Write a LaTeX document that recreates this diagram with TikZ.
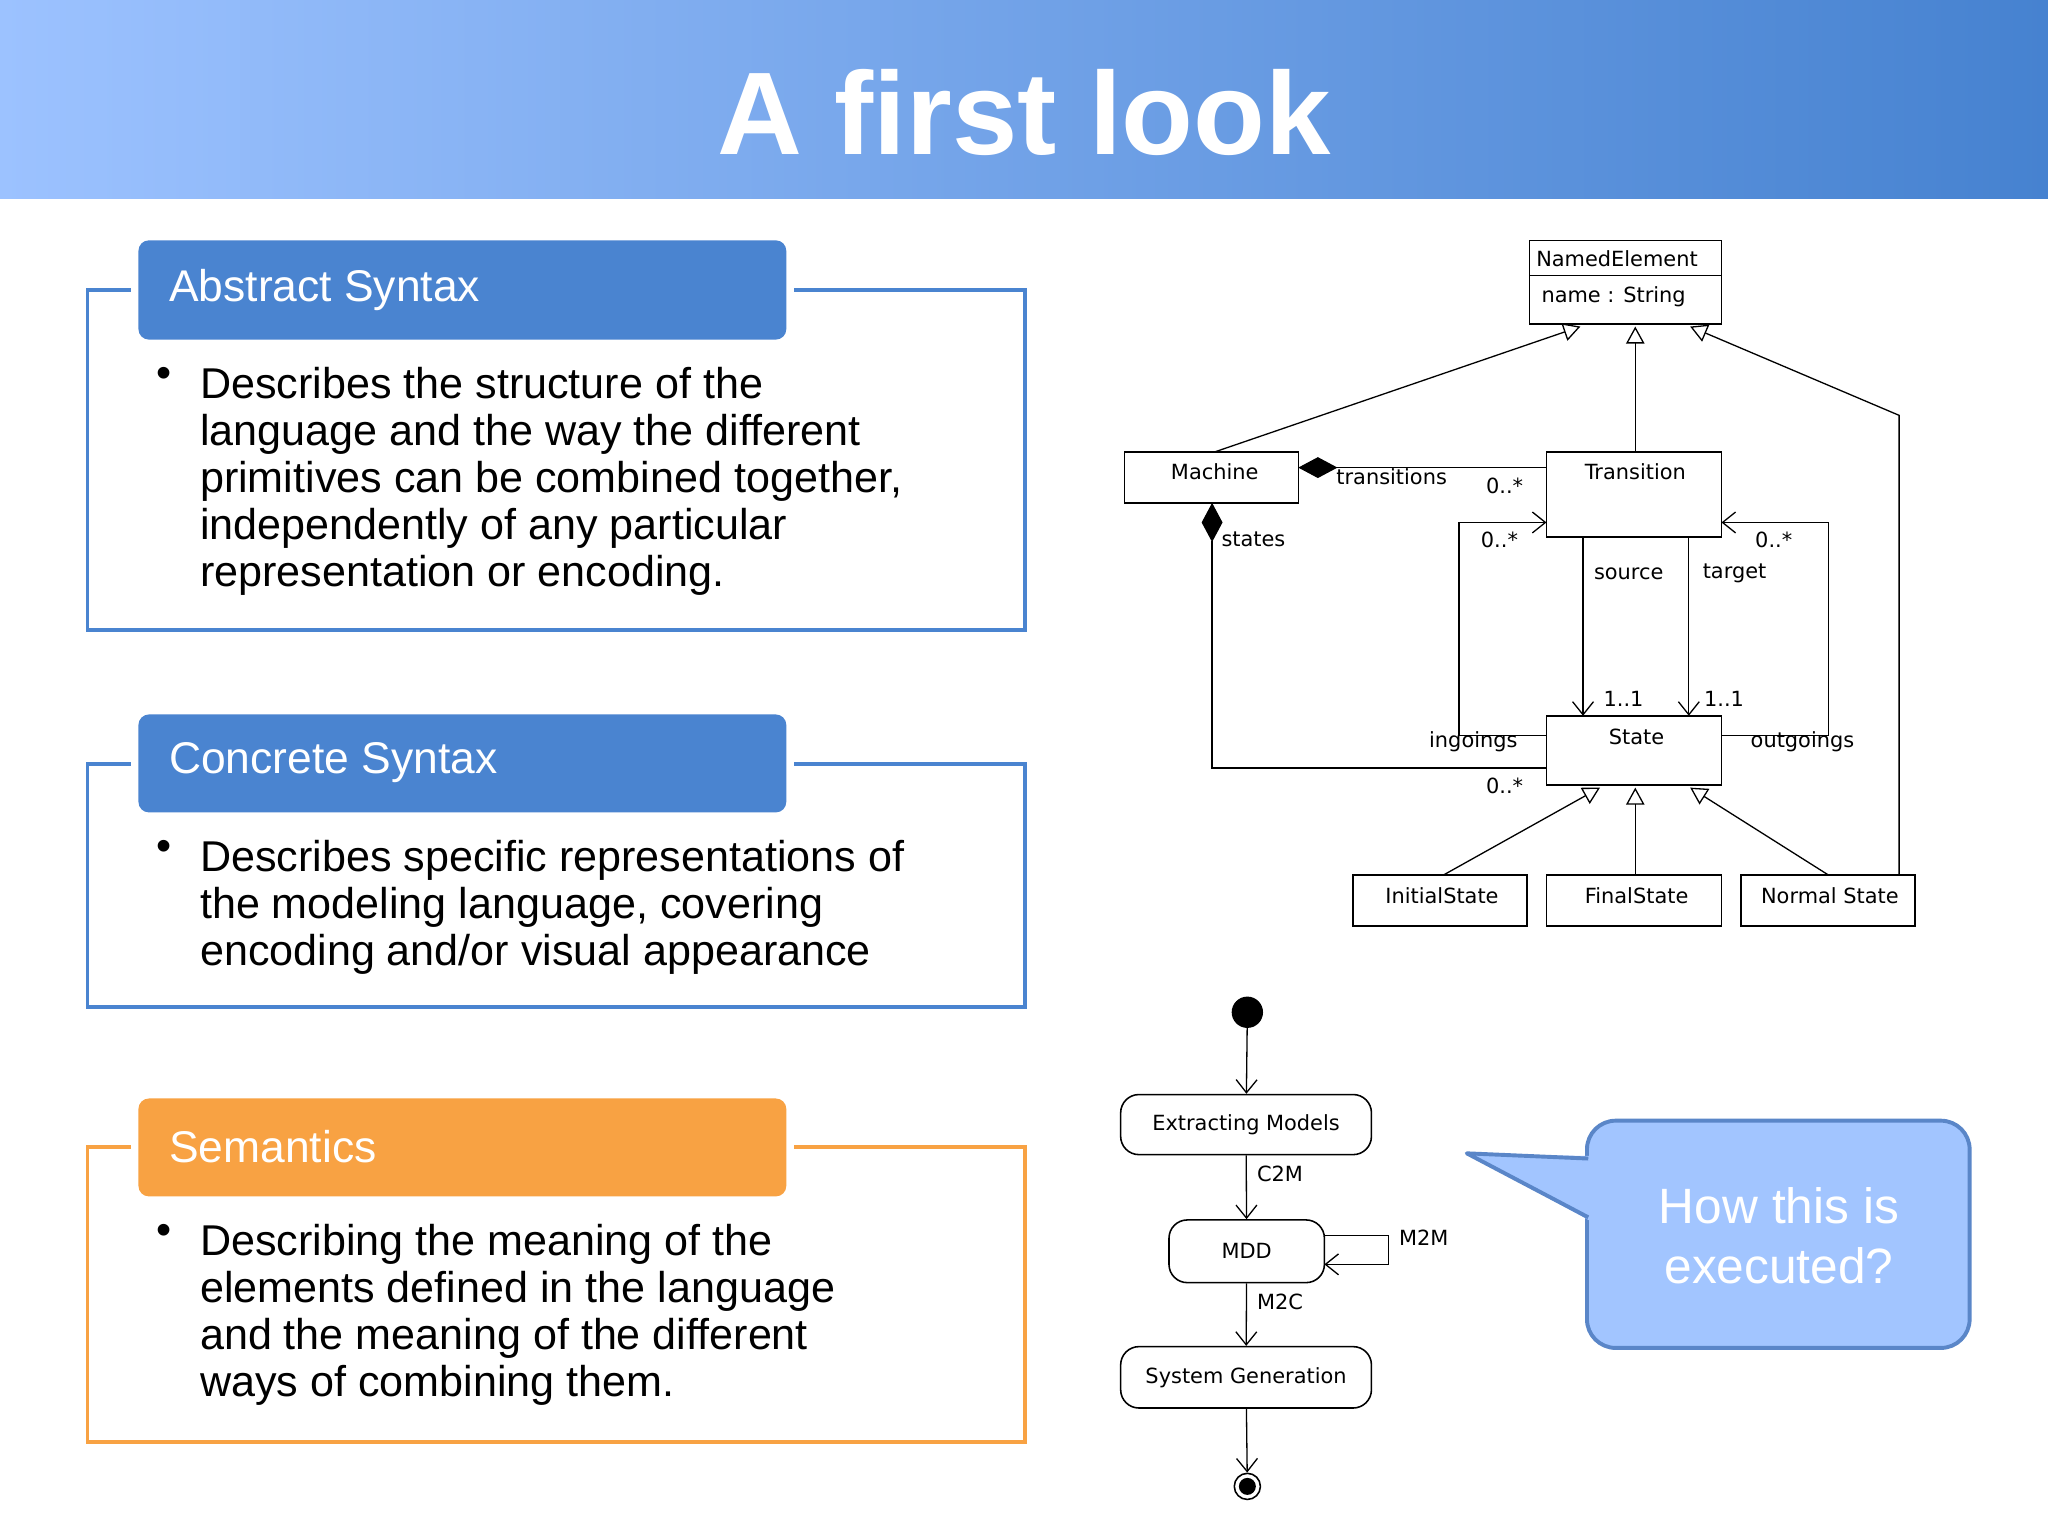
\documentclass[tikz,border=0pt]{standalone}
\usepackage{fontspec}
\setmainfont{Liberation Sans}
\newfontfamily\umlf{DejaVu Sans}
\usetikzlibrary{arrows.meta,shapes.geometric,shadings}
\definecolor{hdrL}{HTML}{9CC2FF}
\definecolor{hdrR}{HTML}{4682D0}
\definecolor{bluebox}{HTML}{4A84D0}
\definecolor{orangebox}{HTML}{F8A243}
\definecolor{callfill}{HTML}{A2C5FF}
\definecolor{callline}{HTML}{5A86C8}
\tikzset{
 outl/.style={line width=3pt},
 tab/.style={rounded corners=8pt},
 tabtxt/.style={text=white,font=\fontsize{34}{40}\selectfont,anchor=west},
 body/.style={anchor=north west,align=left,inner sep=0pt,font=\fontsize{33}{36}\selectfont},
 cls/.style={draw,line width=1.2pt,inner sep=0pt},
 ulab/.style={font=\umlf\fontsize{16}{18}\selectfont,inner sep=1pt},
 ln/.style={line width=1pt},
 inh/.style={ln,-{Triangle[open,length=13pt,width=14pt]}},
 nav/.style={ln,-{Straight Barb[length=10pt,width=16pt]}},
 comp/.style={ln,{Diamond[length=30pt,width=16pt]}-},
 act/.style={draw,line width=1.2pt,rounded corners=14pt,font=\umlf\fontsize{16}{18}\selectfont},
}
\begin{document}
\begin{tikzpicture}[x=1pt,y=-1pt]
\useasboundingbox (0,0) rectangle (1568,1176);
\fill[white] (0,0) rectangle (1568,1176);
\shade[left color=hdrL,right color=hdrR] (0,0) rectangle (1568,152);
\node[text=white,font=\fontsize{90}{100}\selectfont\bfseries] (title) at (784,86) {A first look};

% Abstract syntax
\draw[outl,bluebox] (67,222) rectangle (785,482);
\fill[white] (100,210) rectangle (608,235);
\fill[tab,bluebox] (106,184) rectangle (602,260);
\node[tabtxt] (t1) at (126,222) {Abstract Syntax};
\node[body] (b1d) at (120,281) {•};
\node[body] (b1) at (153,281) {Describes the structure of the\\language and the way the different\\primitives can be combined together,\\independently of any particular\\representation or encoding.};

% Concrete syntax
\draw[outl,bluebox] (67,585) rectangle (785,771);
\fill[white] (100,573) rectangle (608,598);
\fill[tab,bluebox] (106,547) rectangle (602,622);
\node[tabtxt] (t2) at (126,584) {Concrete Syntax};
\node[body] (b2d) at (120,643) {•};
\node[body] (b2) at (153,643) {Describes specific representations of\\the modeling language, covering\\encoding and/or visual appearance};

% Semantics
\draw[outl,orangebox] (67,878) rectangle (785,1104);
\fill[white] (100,866) rectangle (608,891);
\fill[tab,orangebox] (106,841) rectangle (602,916);
\node[tabtxt] (t3) at (126,878) {Semantics};
\node[body] (b3d) at (120,937) {•};
\node[body] (b3) at (153,937) {Describing the meaning of the\\elements defined in the language\\and the meaning of the different\\ways of combining them.};

% UML
\draw[cls] (1171,184) rectangle (1318,248);
\draw[line width=1pt] (1171,211) -- (1318,211);
\node[ulab,anchor=west] (ne) at (1175,198) {NamedElement};
\node[ulab,anchor=west] (nm) at (1179,227) {name : String};
\coordinate (neb) at (1252,248);
\node[cls,minimum width=133pt,minimum height=39pt] (mach) at (927.5,365.5) {};
\node[ulab] at (930,361) {Machine};
\node[cls,minimum width=134pt,minimum height=65pt] (trans) at (1251,378.5) {};
\node[ulab] at (1252,361) {Transition};
\node[cls,minimum width=134pt,minimum height=53pt] (state) at (1251,574.5) {};
\node[ulab] at (1253,564) {State};
\node[cls,minimum width=133pt,minimum height=39pt] (init) at (1102.5,689.5) {};
\node[ulab] at (1104,686) {InitialState};
\node[cls,minimum width=134pt,minimum height=39pt] (fin) at (1251,689.5) {};
\node[ulab] at (1253,686) {FinalState};
\node[cls,minimum width=133pt,minimum height=39pt] (norm) at (1399.5,689.5) {};
\node[ulab] at (1401,686) {Normal State};

\draw[inh] (930,346) -- (1210,250);
\draw[inh] (1252,346) -- (1252,250);
\draw[inh] (1454,670) -- (1454,318) -- (1294,250);
\draw[inh] (1105,670) -- (1225,603);
\draw[inh] (1252,670) -- (1252,603);
\draw[inh] (1400,670) -- (1294,603);

\draw[comp] (994,358) -- (1184,358);
\node[ulab,anchor=west] at (1022,365) {transitions};
\node[ulab] at (1152,372) {0..*};
\draw[comp] (928,385) -- (928,588) -- (1184,588);
\node[ulab,anchor=west] at (934,413) {states};
\node[ulab] at (1152,602) {0..*};

\draw[nav] (1212,411) -- (1212,548);
\draw[nav] (1293,411) -- (1293,548);
\node[ulab] at (1247,439) {source};
\node[ulab] at (1328,439) {target};
\node[ulab] at (1243,535) {1..1};
\node[ulab] at (1320,535) {1..1};
\draw[nav] (1184,563) -- (1117,563) -- (1117,400) -- (1184,400);
\draw[nav] (1318,563) -- (1400,563) -- (1400,400) -- (1318,400);
\node[ulab] at (1128,568) {ingoings};
\node[ulab] at (1380,568) {outgoings};
\node[ulab] at (1148,413) {0..*};
\node[ulab] at (1358,413) {0..*};

% activity
\fill (955,775) circle (12pt);
\coordinate (start) at (955,775);
\node[act,minimum width=192pt,minimum height=46pt] (ext) at (954,861) {Extracting Models};
\node[act,minimum width=119pt,minimum height=48pt] (mdd) at (954.5,958) {MDD};
\node[act,minimum width=192pt,minimum height=47pt] (sys) at (954,1054.5) {System Generation};
\node[draw,circle,line width=1.2pt,minimum size=20pt,inner sep=0pt] (endn) at (955,1138) {};
\fill (endn) circle (6.5pt);
\draw[nav] (start) -- (ext);
\draw[nav] (ext) -- (mdd);
\draw[nav] (mdd) -- (sys);
\draw[nav] (sys) -- (endn);
\node[ulab] at (980,899) {C2M};
\node[ulab] at (980,997) {M2C};
\coordinate (lp1) at (1063,946);
\coordinate (lp2) at (1063,968);
\draw[nav] (1014,946) -- (lp1) -- (lp2) -- (1014,968);
\node[ulab] at (1090,948) {M2M};

% callout
\draw[line width=3pt,callline,fill=callfill,rounded corners=22pt] (1215,930) -- (1215,858) -- (1508,858) -- (1508,1032) -- (1215,1032) -- (1215,930);
\fill[callfill] (1218,885) -- (1218,935) -- (1125,884) -- cycle;
\draw[line width=3pt,callline,line join=round] (1216,887) -- (1123,883) -- (1216,932);
\node[text=white,align=center,font=\fontsize{38}{46}\selectfont] (q) at (1362,946) {How this is\\executed?};
\end{tikzpicture}
\end{document}
